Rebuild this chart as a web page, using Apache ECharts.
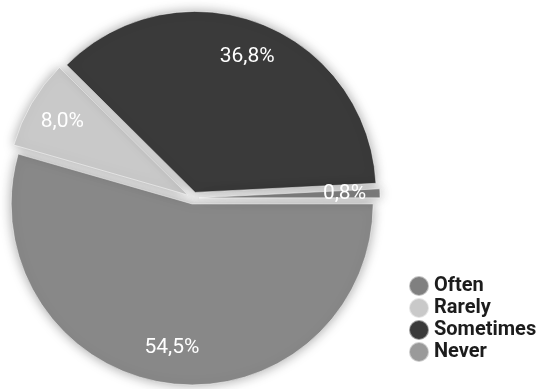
<!DOCTYPE html>
<html>
<head>
<meta charset="utf-8">
<script src="https://cdn.jsdelivr.net/npm/echarts@6/dist/echarts.min.js"></script>
<style>html,body{margin:0;padding:0;background:#fff}#c{width:536px;height:389px}</style>
</head>
<body>
<div id="c"></div>
<script>
// Data (slice order, clockwise from 3 o'clock)
var categories = ['Never', 'Rarely', 'Sometimes', 'Often'];
var values = [54.5, 8.0, 36.8, 0.8];
var labelTexts = ['54,5%', '8,0%', '36,8%', '0,8%'];
var legendOrder = ['Often', 'Rarely', 'Sometimes', 'Never'];

var sliceColors = { Never: '#888888', Rarely: '#c9c9c9', Sometimes: '#3a3a3a', Often: '#7c7c7c' };
var legendColors = { Never: '#9a9a9a', Rarely: '#c9c9c9', Sometimes: '#3a3a3a', Often: '#808080' };

var FONT = '"Liberation Sans Narrow", "Arial Narrow", Roboto, sans-serif';

var pieData = categories.map(function (c, i) {
  return { name: c, value: values[i], selected: true, itemStyle: { color: sliceColors[c] } };
});
var labelData = categories.map(function (c, i) {
  return { name: c, value: values[i], selected: true, label: { formatter: labelTexts[i] } };
});

var chart = echarts.init(document.getElementById('c'), null, { renderer: 'canvas' });
chart.setOption({
  animation: false,
  backgroundColor: '#ffffff',
  legend: {
    orient: 'vertical',
    left: 403,
    top: 270,
    itemWidth: 20,
    itemHeight: 20,
    itemGap: 0,
    icon: 'circle',
    selectedMode: false,
    textStyle: { fontFamily: FONT, fontSize: 20, fontWeight: 'bold', color: '#1c1c1c', lineHeight: 21 },
    data: legendOrder.map(function (c) { return { name: c, itemStyle: { color: legendColors[c] } }; })
  },
  series: [
    {
      type: 'pie',
      center: [193, 198],
      radius: [0, 181],
      startAngle: 0,
      clockwise: true,
      selectedMode: 'multiple',
      selectedOffset: 6,
      label: { show: false },
      labelLine: { show: false },
      emphasis: { disabled: true },
      itemStyle: { shadowBlur: 12, shadowColor: 'rgba(0,0,0,0.35)', borderColor: 'rgba(255,255,255,0.5)', borderWidth: 1 },
      data: pieData
    },
    {
      type: 'pie',
      center: [193, 198],
      radius: [104, 181],
      startAngle: 0,
      clockwise: true,
      silent: true,
      selectedMode: 'multiple',
      selectedOffset: 6,
      itemStyle: { color: 'rgba(0,0,0,0)' },
      label: { show: true, position: 'inside', color: '#ffffff', fontFamily: FONT, fontSize: 21, padding: [8, 0, 0, 0] },
      labelLine: { show: false },
      emphasis: { disabled: true },
      data: labelData
    }
  ]
});
</script>
</body>
</html>
